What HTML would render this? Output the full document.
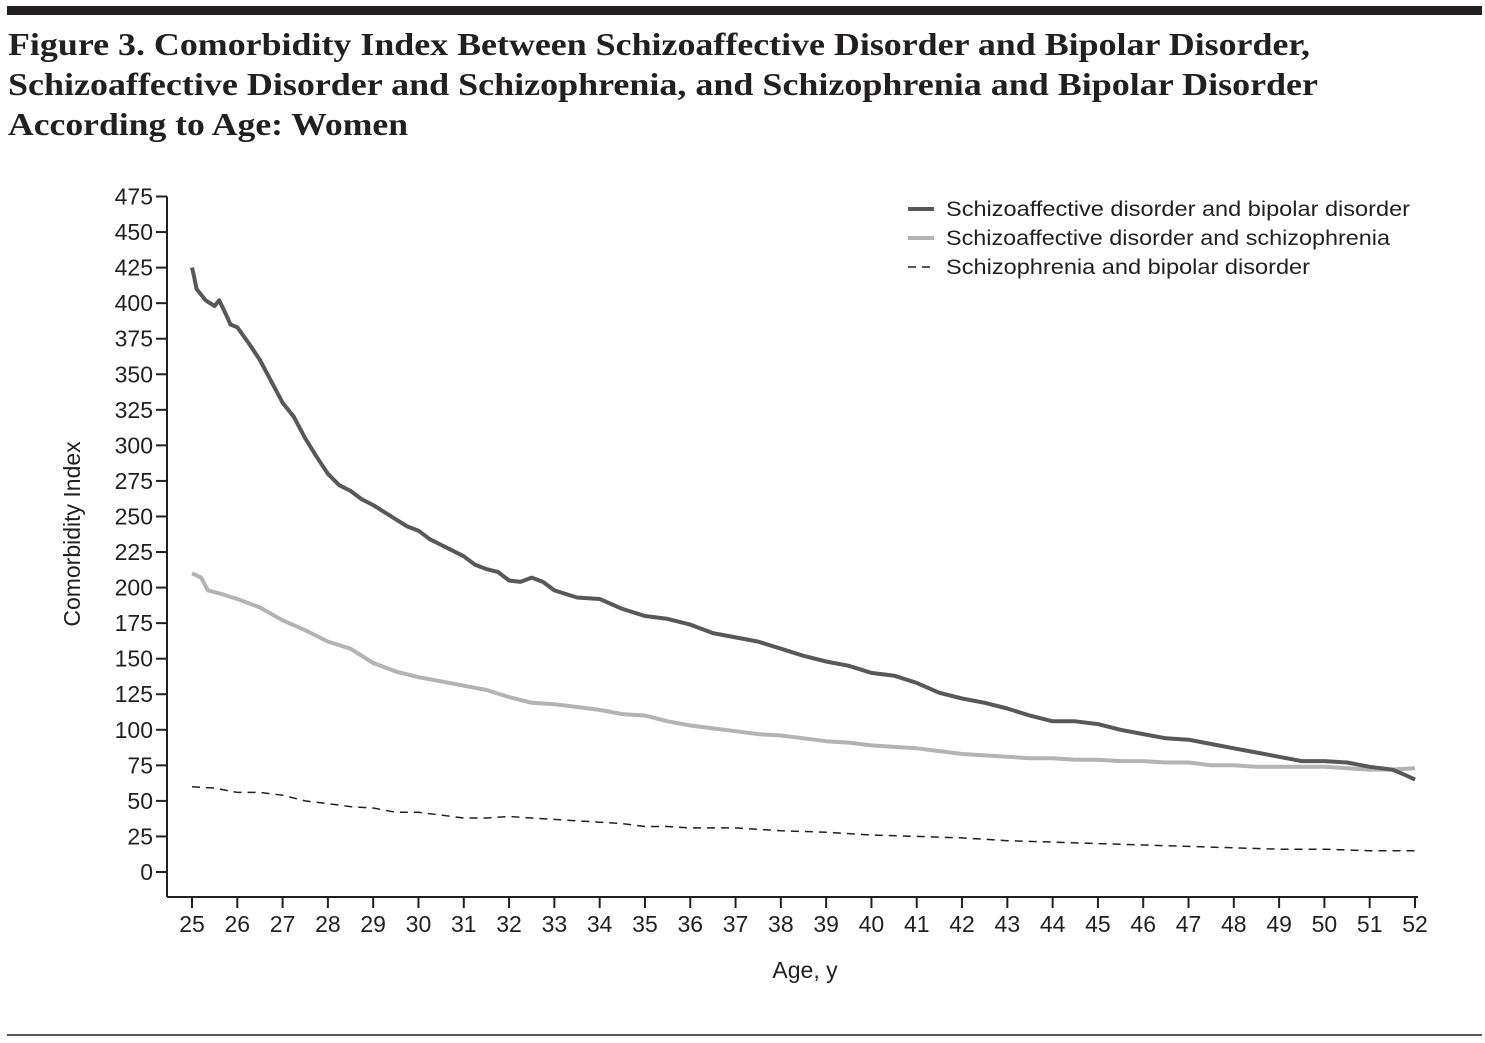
<!DOCTYPE html>
<html><head><meta charset="utf-8"><style>
html,body{margin:0;padding:0;background:#fff;}
svg{display:block;}
</style></head><body>
<svg width="1485" height="1043" xmlns="http://www.w3.org/2000/svg" id="chart">
<rect x="7" y="6" width="1475" height="9" fill="#231f20"/>
<line x1="7" y1="1035" x2="1482" y2="1035" stroke="#231f20" stroke-width="1.5"/>
<g font-family="'Liberation Serif',serif" font-size="32" font-weight="bold" fill="#231f20">
<text x="8" y="55" textLength="1302" lengthAdjust="spacingAndGlyphs">Figure 3. Comorbidity Index Between Schizoaffective Disorder and Bipolar Disorder,</text>
<text x="8" y="95" textLength="1310" lengthAdjust="spacingAndGlyphs">Schizoaffective Disorder and Schizophrenia, and Schizophrenia and Bipolar Disorder</text>
<text x="8" y="135" textLength="400" lengthAdjust="spacingAndGlyphs">According to Age: Women</text>
</g>
<g id="axes" font-family="'Liberation Sans',sans-serif" fill="#231f20"></g>
<g id="series"></g>
<g id="legend" font-family="'Liberation Sans',sans-serif" font-size="21" fill="#231f20">
<line x1="908" y1="209" x2="934" y2="209" stroke="#58585a" stroke-width="4"/>
<text x="946" y="216" textLength="464" lengthAdjust="spacingAndGlyphs">Schizoaffective disorder and bipolar disorder</text>
<line x1="908" y1="238" x2="934" y2="238" stroke="#b3b3b3" stroke-width="4"/>
<text x="946" y="245" textLength="444" lengthAdjust="spacingAndGlyphs">Schizoaffective disorder and schizophrenia</text>
<line x1="908" y1="267" x2="934" y2="267" stroke="#231f20" stroke-width="1.5" stroke-dasharray="8,6"/>
<text x="946" y="274" textLength="364" lengthAdjust="spacingAndGlyphs">Schizophrenia and bipolar disorder</text>
</g>
</svg>
<script>
const xTicks = [25,26,27,28,29,30,31,32,33,34,35,36,37,38,39,40,41,42,43,44,45,46,47,48,49,50,51,52];
const yTicks = [0,25,50,75,100,125,150,175,200,225,250,275,300,325,350,375,400,425,450,475];
const sadBipAges = [25,25.05,25.1,25.3,25.5,25.6,25.75,25.85,26,26.25,26.5,26.75,27,27.25,27.5,27.75,28,28.25,28.5,28.75,29,29.25,29.5,29.75,30,30.25,30.5,30.75,31,31.25,31.5,31.75,32,32.25,32.5,32.75,33,33.5,34,34.5,35,35.5,36,36.5,37,37.5,38,38.5,39,39.5,40,40.5,41,41.5,42,42.5,43,43.5,44,44.5,45,45.5,46,46.5,47,47.5,48,48.5,49,49.5,50,50.5,51,51.5,51.8,52];
const sadBipVals = [425,418,410,402,398,402,392,385,383,372,360,345,330,320,305,292,280,272,268,262,258,253,248,243,240,234,230,226,222,216,213,211,205,204,207,204,198,193,192,185,180,178,174,168,165,162,157,152,148,145,140,138,133,126,122,119,115,110,106,106,104,100,97,94,93,90,87,84,81,78,78,77,74,72,68,65];
const sadSczAges = [25,25.2,25.35,25.6,26,26.5,27,27.5,28,28.5,29,29.5,30,30.5,31,31.5,32,32.5,33,33.5,34,34.5,35,35.5,36,36.5,37,37.5,38,38.5,39,39.5,40,40.5,41,41.5,42,42.5,43,43.5,44,44.5,45,45.5,46,46.5,47,47.5,48,48.5,49,49.5,50,50.5,51,51.5,52];
const sadSczVals = [210,207,198,196,192,186,177,170,162,157,147,141,137,134,131,128,123,119,118,116,114,111,110,106,103,101,99,97,96,94,92,91,89,88,87,85,83,82,81,80,80,79,79,78,78,77,77,75,75,74,74,74,74,73,72,72,73];
const sczBipAges = [25,25.5,26,26.5,27,27.5,28,28.5,29,29.5,30,30.5,31,31.5,32,32.5,33,33.5,34,34.5,35,35.5,36,37,38,39,40,41,42,43,44,45,46,47,48,49,50,51,52];
const sczBipVals = [60,59,56,56,54,50,48,46,45,42,42,40,38,38,39,38,37,36,35,34,32,32,31,31,29,28,26,25,24,22,21,20,19,18,17,16,16,15,15];

const NS='http://www.w3.org/2000/svg';
const X0=167,XA=192,XB=1415,Y0=872,Y475=196.5,XAXIS=897;
const xs=a=>XA+(a-25)*(XB-XA)/27;
const ys=v=>Y0-v*(Y0-Y475)/475;
function mk(t,attrs,parent){const e=document.createElementNS(NS,t);for(const k in attrs)e.setAttribute(k,attrs[k]);parent.appendChild(e);return e;}
const axes=document.getElementById('axes');
let l=mk('line',{x1:X0,y1:Y475,x2:X0,y2:XAXIS,stroke:'#231f20','stroke-width':2},axes);


l=mk('line',{x1:X0,y1:XAXIS,x2:1418,y2:XAXIS,stroke:'#231f20','stroke-width':2},axes);


yTicks.forEach(v=>{
 const t=mk('line',{x1:X0-11,y1:ys(v),x2:X0,y2:ys(v),stroke:'#231f20','stroke-width':2},axes);
 
 
 const tx=mk('text',{x:X0-14,y:ys(v)+8,'text-anchor':'end','font-size':23},axes);
 tx.textContent=v;
 
 
});
xTicks.forEach(a=>{
 const t=mk('line',{x1:xs(a),y1:XAXIS,x2:xs(a),y2:XAXIS+11,stroke:'#231f20','stroke-width':2},axes);
 
 
 const tx=mk('text',{x:xs(a),y:932,'text-anchor':'middle','font-size':23},axes);
 tx.textContent=a;
 
 
});
let tt=mk('text',{x:805,y:978,'text-anchor':'middle','font-size':23},axes);
tt.textContent='Age, y';


tt=mk('text',{x:0,y:0,'text-anchor':'middle','font-size':23,transform:'translate(80,534) rotate(-90)'},axes);
tt.textContent='Comorbidity Index';


const ser=document.getElementById('series');
function line(ages,vals,style,name){
 const pts=ages.map((a,i)=>xs(a).toFixed(1)+','+ys(vals[i]).toFixed(1)).join(' ');
 const p=mk('polyline',Object.assign({points:pts,fill:'none','stroke-linejoin':'round'},style),ser);
 
 
}
line(sczBipAges,sczBipVals,{stroke:'#231f20','stroke-width':1.5,'stroke-dasharray':'8,6'},'series-schizophrenia-bipolar');
line(sadSczAges,sadSczVals,{stroke:'#b3b3b3','stroke-width':4},'series-sad-schizophrenia');
line(sadBipAges,sadBipVals,{stroke:'#58585a','stroke-width':4},'series-sad-bipolar');
</script>
</body></html>
